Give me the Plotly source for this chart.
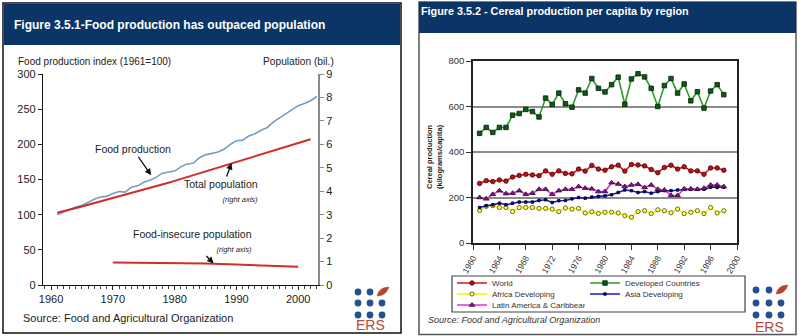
import plotly.graph_objects as go

W, H = 812, 336
def px(x): return x / W
def py(y): return 1 - y / H

FONT = "Arial, 'Liberation Sans', sans-serif"
NAVY = "#0b3567"

# ---------------- Left chart data ----------------
food_years = list(range(1961, 2004))
food_index = [100, 104, 107, 111, 113, 118, 122, 125, 126, 130,
              133, 132, 139, 141, 146, 149, 153, 159, 160, 162,
              168, 172, 173, 181, 185, 187, 189, 193, 200, 205,
              206, 212, 215, 220, 224, 232, 238, 243, 250, 255,
              258, 262, 268]
pop_years = list(range(1961, 2003))
pop_total = [3.08, 3.14, 3.21, 3.28, 3.35, 3.42, 3.49, 3.56, 3.63, 3.70,
             3.78, 3.85, 3.92, 4.00, 4.07, 4.14, 4.21, 4.28, 4.36, 4.44,
             4.52, 4.60, 4.68, 4.76, 4.84, 4.92, 5.01, 5.10, 5.18, 5.27,
             5.35, 5.43, 5.51, 5.59, 5.67, 5.75, 5.83, 5.91, 5.99, 6.07,
             6.15, 6.22]
insecure_years = [1970, 1975, 1980, 1985, 1990, 1995, 2000]
insecure_pop = [0.96, 0.95, 0.95, 0.92, 0.87, 0.81, 0.78]
left_xticks = [1960, 1970, 1980, 1990, 2000]

# ---------------- Right chart data ----------------
cereal_years = list(range(1961, 1999))
world = [262, 274, 270, 277, 272, 290, 297, 302, 299, 296,
         317, 302, 317, 306, 304, 325, 316, 341, 325,
         320, 335, 342, 316, 345, 343, 339, 323, 309, 332,
         342, 325, 335, 317, 317, 302, 330, 330, 320]
developed = [482, 508, 486, 508, 508, 562, 569, 587, 578, 554,
             637, 609, 659, 612, 597, 673, 659, 723, 680,
             664, 696, 729, 610, 721, 744, 730, 680, 600, 692,
             723, 659, 699, 625, 665, 593, 668, 696, 652]
africa = [143, 161, 164, 156, 156, 138, 156, 156, 156, 152,
          152, 149, 138, 154, 149, 152, 132, 137, 130,
          135, 135, 132, 120, 113, 138, 142, 129, 146, 142,
          133, 149, 129, 135, 142, 129, 156, 132, 142]
asia = [156, 164, 168, 175, 168, 175, 180, 180, 180, 187,
        190, 178, 186, 187, 194, 200, 197, 202, 205,
        207, 212, 222, 233, 230, 222, 226, 219, 226, 230,
        230, 233, 236, 236, 236, 236, 245, 244, 245]
latin = [200, 194, 214, 230, 217, 219, 230, 214, 219, 236,
         236, 214, 230, 236, 236, 248, 241, 238, 226,
         226, 265, 259, 248, 255, 258, 244, 255, 236, 233,
         209, 209, 238, 238, 236, 241, 255, 255, 248]

fig = go.Figure()

# Left chart traces
fig.add_trace(go.Scatter(x=food_years, y=food_index, mode="lines",
                         line=dict(color="#749dbf", width=1.6),
                         xaxis="x", yaxis="y", showlegend=False))
fig.add_trace(go.Scatter(x=pop_years, y=pop_total, mode="lines",
                         line=dict(color="#d42a2a", width=2),
                         xaxis="x", yaxis="y2", showlegend=False))
fig.add_trace(go.Scatter(x=insecure_years, y=insecure_pop, mode="lines",
                         line=dict(color="#d42a2a", width=2),
                         xaxis="x", yaxis="y2", showlegend=False))

# Right chart traces
def series(name, y, lcolor, lwidth, symbol, msize, mcolor, medge, legend):
    fig.add_trace(go.Scatter(
        x=cereal_years, y=y, name=name, mode="lines+markers",
        line=dict(color=lcolor, width=lwidth),
        marker=dict(symbol=symbol, size=msize, color=mcolor,
                    line=dict(color=medge, width=0.8)),
        xaxis="x3", yaxis="y3", legend=legend))

series("World", world, "#d01a1a", 1.6, "circle", 4.5, "#b8121a", "#4a0000", "legend")
series("Developed Countries", developed, "#2c9a2c", 1.6, "square", 4.5, "#0f5a1a", "#002200", "legend")
series("Africa Developing", africa, "#f2f200", 1.4, "circle", 4.2, "#ffff50", "#4a4a00", "legend2")
series("Asia Developing", asia, "#1a1acc", 1.6, "square", 2.5, "#101060", "#000030", "legend2")
series("Latin America & Caribbean", latin, "#e030e0", 1.6, "triangle-up", 5, "#7a1f7a", "#300030", "legend3")

# ---------------- shapes ----------------
shapes = []
shapes.append(dict(type="rect", xref="paper", yref="paper",
                   x0=px(3), x1=px(401), y0=py(333), y1=py(3),
                   line=dict(color="#111", width=1.5), fillcolor="rgba(0,0,0,0)", layer="below"))
shapes.append(dict(type="rect", xref="paper", yref="paper",
                   x0=px(4), x1=px(400), y0=py(45), y1=py(4),
                   line=dict(width=0), fillcolor=NAVY, layer="below"))
shapes.append(dict(type="rect", xref="paper", yref="paper",
                   x0=px(419), x1=px(796), y0=py(334.5), y1=py(2),
                   line=dict(color="#555", width=1.5), fillcolor="rgba(0,0,0,0)", layer="below"))
shapes.append(dict(type="rect", xref="paper", yref="paper",
                   x0=px(419), x1=px(796), y0=py(33), y1=py(2),
                   line=dict(width=0), fillcolor=NAVY, layer="below"))
shapes.append(dict(type="rect", xref="paper", yref="paper",
                   x0=px(452), x1=px(745), y0=py(312), y1=py(276),
                   line=dict(color="#444", width=1.2), fillcolor="rgba(0,0,0,0)", layer="below"))

def logo(cols, rows):
    r = 3.4
    for j, yy in enumerate(rows):
        for i, xx in enumerate(cols):
            if i == 2 and j == 0:
                x0, y0 = xx - 5, yy + 4
                x1, y1 = xx + 7, yy - 5
                path = (f"M {px(x0)},{py(y0)} Q {px(xx - 3)},{py(yy - 5)} {px(x1)},{py(y1)} "
                        f"Q {px(xx + 4)},{py(yy + 4)} {px(x0)},{py(y0)} Z")
                shapes.append(dict(type="path", xref="paper", yref="paper", path=path,
                                   fillcolor="#b6452f", line=dict(color="#b6452f", width=0.5)))
            else:
                shapes.append(dict(type="circle", xref="paper", yref="paper",
                                   x0=px(xx - r), x1=px(xx + r), y0=py(yy + r), y1=py(yy - r),
                                   fillcolor="#24508f", line=dict(width=0)))

logo([358, 370, 382], [292, 303, 315])
logo([756, 769, 781], [290, 303, 315])

# ---------------- annotations ----------------
ann = []
ann.append(dict(text="<b>Figure 3.5.1-Food production has outpaced population</b>",
                x=px(12), y=py(25), xref="paper", yref="paper", xanchor="left", yanchor="middle",
                showarrow=False, font=dict(family=FONT, size=12, color="white")))
ann.append(dict(text="<b>Figure 3.5.2 - Cereal production per capita by region</b>",
                x=px(419), y=py(11), xref="paper", yref="paper", xanchor="left", yanchor="middle",
                showarrow=False, font=dict(family=FONT, size=10.8, color="white")))
ann.append(dict(text="Food production index (1961=100)",
                x=px(16), y=py(61), xref="paper", yref="paper", xanchor="left", yanchor="middle",
                showarrow=False, font=dict(family=FONT, size=10, color="#222")))
ann.append(dict(text="Population (bil.)",
                x=px(261), y=py(61), xref="paper", yref="paper", xanchor="left", yanchor="middle",
                showarrow=False, font=dict(family=FONT, size=10.2, color="#222")))
arrow_kw = dict(showarrow=True, arrowhead=2, arrowsize=1, arrowwidth=1.3,
                arrowcolor="#111", standoff=0)
ann.append(dict(text="Food production", x=1976.2, y=156, xref="x", yref="y",
                ax=-18, ay=-26, font=dict(family=FONT, size=10.5, color="#222"), **arrow_kw))
ann.append(dict(text="Total population<br><span style='font-size:7.5px'><i>(right axis)</i></span>",
                align="right", x=1989.2, y=5.2, xref="x", yref="y2",
                ax=-10, ay=28, font=dict(family=FONT, size=10.5, color="#222"), **arrow_kw))
ann.append(dict(text="Food-insecure population<br><span style='font-size:7.5px'><i>(right axis)</i></span>",
                align="right", x=1986.3, y=0.92, xref="x", yref="y2",
                ax=-21, ay=-22, font=dict(family=FONT, size=10.5, color="#222"), **arrow_kw))
ann.append(dict(text="Source: Food and Agricultural Organization",
                x=px(21), y=py(318), xref="paper", yref="paper", xanchor="left", yanchor="middle",
                showarrow=False, font=dict(family=FONT, size=11, color="#222")))
ann.append(dict(text="<b>Cereal production<br>(kilograms/capita)</b>",
                x=px(434), y=py(156), xref="paper", yref="paper", xanchor="center", yanchor="middle",
                textangle=-90, showarrow=False, font=dict(family=FONT, size=7.5, color="#222")))
ann.append(dict(text="<i>Source: Food and Agricultural Organization</i>",
                x=px(426), y=py(320), xref="paper", yref="paper", xanchor="left", yanchor="middle",
                showarrow=False, font=dict(family=FONT, size=9, color="#333")))
for cx, cy in [(370, 325), (769, 327)]:
    ann.append(dict(text="ERS", x=px(cx), y=py(cy), xref="paper", yref="paper",
                    xanchor="center", yanchor="middle", showarrow=False,
                    font=dict(family=FONT, size=14, color="#b5483b")))

legend_common = dict(orientation="h", xanchor="left", yanchor="middle",
                     xref="container", yref="container",
                     entrywidth=88, entrywidthmode="pixels", itemwidth=30,
                     bgcolor="rgba(0,0,0,0)", borderwidth=0,
                     font=dict(family=FONT, size=8, color="#333"))

fig.update_layout(
    width=W, height=H, autosize=False,
    margin=dict(l=0, r=0, t=0, b=0, pad=0, autoexpand=False),
    paper_bgcolor="white", plot_bgcolor="white",
    font=dict(family=FONT),
    shapes=shapes, annotations=ann,
    legend=dict(x=px(452), y=py(283), **legend_common),
    legend2=dict(x=px(452), y=py(294), **legend_common),
    legend3=dict(x=px(452), y=py(305), **legend_common),
    xaxis=dict(domain=[px(43), px(318)], range=[1958.7, 2003.2], anchor="y", automargin=False,
               tickvals=left_xticks, ticks="outside", ticklen=4, tickcolor="#222",
               minor=dict(dtick=1, tick0=1960, ticks="outside", ticklen=3, tickcolor="#444", showgrid=False),
               showline=True, linecolor="#111", linewidth=1.2, showgrid=False, zeroline=False,
               tickfont=dict(family=FONT, size=11, color="#222")),
    yaxis=dict(domain=[py(285), py(74)], range=[0, 300], dtick=50, anchor="x", automargin=False,
               ticks="outside", ticklen=4, tickcolor="#222",
               showline=True, linecolor="#111", linewidth=1.2, showgrid=False, zeroline=False,
               tickfont=dict(family=FONT, size=11, color="#222")),
    yaxis2=dict(overlaying="y", side="right", anchor="x", range=[0, 9], dtick=1, automargin=False,
                ticks="outside", ticklen=4, tickcolor="#888",
                showline=True, linecolor="#8a8a8a", linewidth=2.2, showgrid=False, zeroline=False,
                tickfont=dict(family=FONT, size=11, color="#222")),
    xaxis3=dict(domain=[px(473), px(737)], range=[1960, 2000], anchor="y3", automargin=False,
                dtick=4, tick0=1960, tickangle=-60, ticks="outside", ticklen=5, tickcolor="#333",
                showline=True, linecolor="#222", linewidth=1.5, mirror=True,
                showgrid=False, zeroline=False,
                tickfont=dict(family=FONT, size=8.5, color="#333")),
    yaxis3=dict(domain=[py(243), py(61)], range=[0, 800], dtick=200, anchor="x3", automargin=False,
                ticks="outside", ticklen=5, tickcolor="#333",
                showline=True, linecolor="#222", linewidth=1.5, mirror=True,
                showgrid=True, gridcolor="#8c8c8c", gridwidth=1.5, zeroline=False,
                tickfont=dict(family=FONT, size=9.5, color="#333")),
)

fig.write_html("out.html")
